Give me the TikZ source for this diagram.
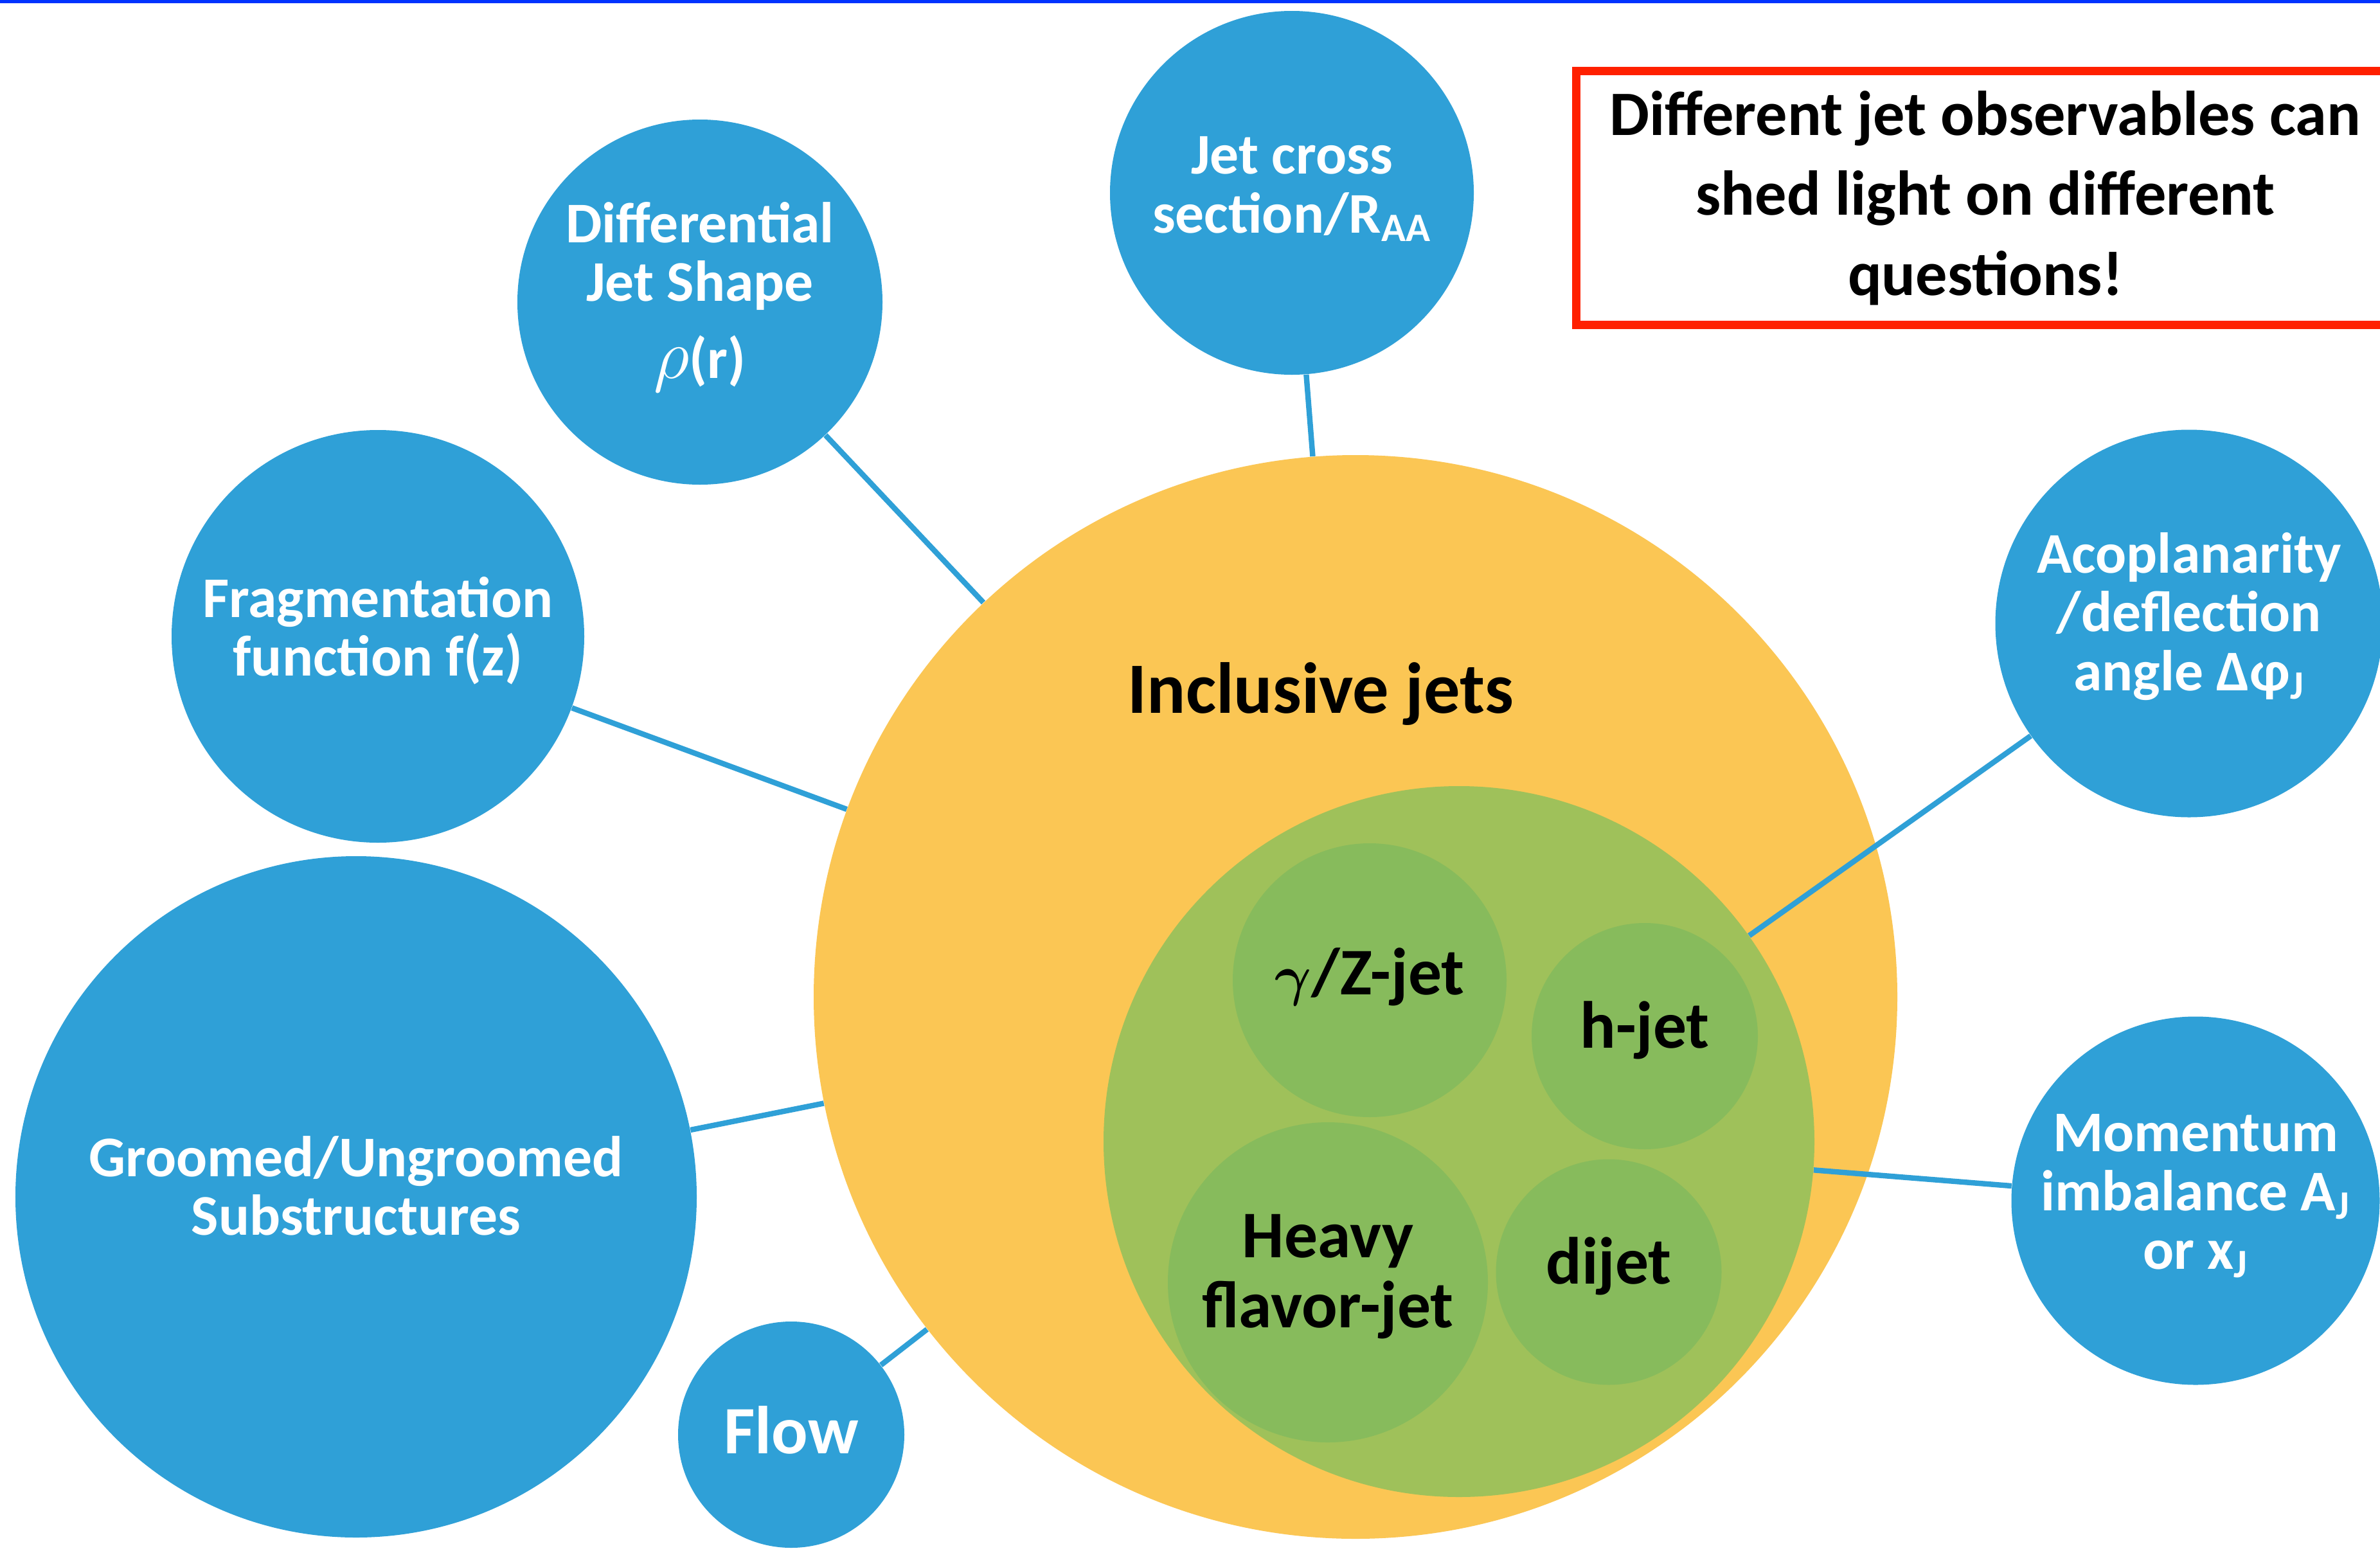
\documentclass[tikz,border=0pt]{standalone}
\usepackage{fontspec}
\setmainfont{Carlito}
\usepackage{amsmath,bm}
\definecolor{bubbleblue}{RGB}{47,160,215}
\definecolor{jetyellow}{RGB}{251,198,84}
\definecolor{jetgreen}{RGB}{159,193,90}
\definecolor{subgreen}{RGB}{135,187,92}
\definecolor{framered}{RGB}{255,32,0}
\definecolor{rulerblue}{RGB}{0,51,255}

\begin{document}
\begin{tikzpicture}[x=1cm,y=-1cm,
   bubble/.style={circle,fill=bubbleblue,inner sep=0pt},
   obstext/.style={text=white,align=center,inner sep=0pt,
      font=\bfseries\fontsize{25.5}{26}\selectfont},
   subjet/.style={circle,fill=subgreen,inner sep=0pt},
   subtext/.style={align=center,inner sep=0pt,
      font=\bfseries\fontsize{29.5}{31}\selectfont},
   link/.style={bubbleblue,line width=2.4pt}]
   \clip (0,0) rectangle (37.03,24.13);
   \fill[white] (0,0) rectangle (37.03,24.13);
   \fill[rulerblue] (0,0) rectangle (37.03,0.05);
   % inclusive jets and the tagged jets inside
   \node[circle,fill=jetyellow,minimum size=16.86cm] (incl) at (21.09,15.51) {};
   \node[font=\bfseries\fontsize{32}{36}\selectfont] (incltext) at (20.55,10.80) {Inclusive jets};
   \node[circle,fill=jetgreen,minimum size=11.06cm] (tagged) at (22.70,17.76) {};
   \node[subjet,minimum size=4.26cm] (gz) at (21.31,15.25) {};
   \node[subjet,minimum size=3.52cm] (hjet) at (25.59,16.12) {};
   \node[subjet,minimum size=4.98cm] (heavy) at (20.66,19.95) {};
   \node[subjet,minimum size=3.51cm] (dijet) at (25.03,19.79) {};
   \node[subtext,yshift=0.05cm] (gztext) at (gz) {{\boldmath$\gamma$}/Z-jet};
   \node[subtext,yshift=0.09cm] (hjettext) at (hjet) {h-jet};
   \node[subtext,yshift=0.09cm] (heavytext) at (heavy) {Heavy\\flavor-jet};
   \node[subtext,yshift=0.09cm] (dijettext) at (dijet) {dijet};
   % observables
   \node[bubble,minimum size=5.66cm] (xsec) at (20.10,3.00) {};
   \node[bubble,minimum size=5.68cm] (shape) at (10.89,4.70) {};
   \node[bubble,minimum size=6.42cm] (frag) at (5.88,9.90) {};
   \node[bubble,minimum size=10.6cm] (groom) at (5.54,18.62) {};
   \node[bubble,minimum size=3.52cm] (flow) at (12.31,22.32) {};
   \node[bubble,minimum size=6.03cm] (acop) at (34.06,9.70) {};
   \node[bubble,minimum size=5.73cm] (imbal) at (34.16,18.68) {};
   \node[obstext,yshift=0.06cm] (xsectext) at (xsec) {Jet cross\\section/R\textsubscript{AA}};
   \node[obstext,yshift=0.08cm] (shapetext) at (shape) {Differential\\Jet Shape\\[8pt]\scalebox{1.25}{$\rho$}(r)};
   \node[obstext,yshift=0.09cm] (fragtext) at (frag) {Fragmentation\\function f(z)};
   \node[obstext,yshift=0.17cm] (groomtext) at (groom) {Groomed/Ungroomed\\Substructures};
   \node[obstext,yshift=0.07cm,font=\bfseries\fontsize{30}{32}\selectfont] (flowtext) at (flow) {Flow};
   \node[obstext,yshift=0.11cm] (acoptext) at (acop) {Acoplanarity\\/deflection\\angle Δφ\textsubscript{J}};
   \node[obstext,yshift=0.07cm] (imbaltext) at (imbal) {Momentum\\imbalance A\textsubscript{J}\\or x\textsubscript{J}};
   \draw[link] (xsec)--(incl);
   \draw[link] (shape)--(incl);
   \draw[link] (frag)--(incl);
   \draw[link] (groom)--(incl);
   \draw[link] (flow)--(incl);
   \draw[link] (acop)--(tagged);
   \draw[link] (imbal)--(tagged);
   % message box
   \node[draw=framered,line width=3.7pt,minimum width=12.73cm,minimum height=3.95cm,align=center,
      font=\bfseries\fontsize{28}{35.5}\selectfont] (note) at (30.89,3.08)
      {Different jet observables can\\shed light on different\\questions!};
\end{tikzpicture}
\end{document}
